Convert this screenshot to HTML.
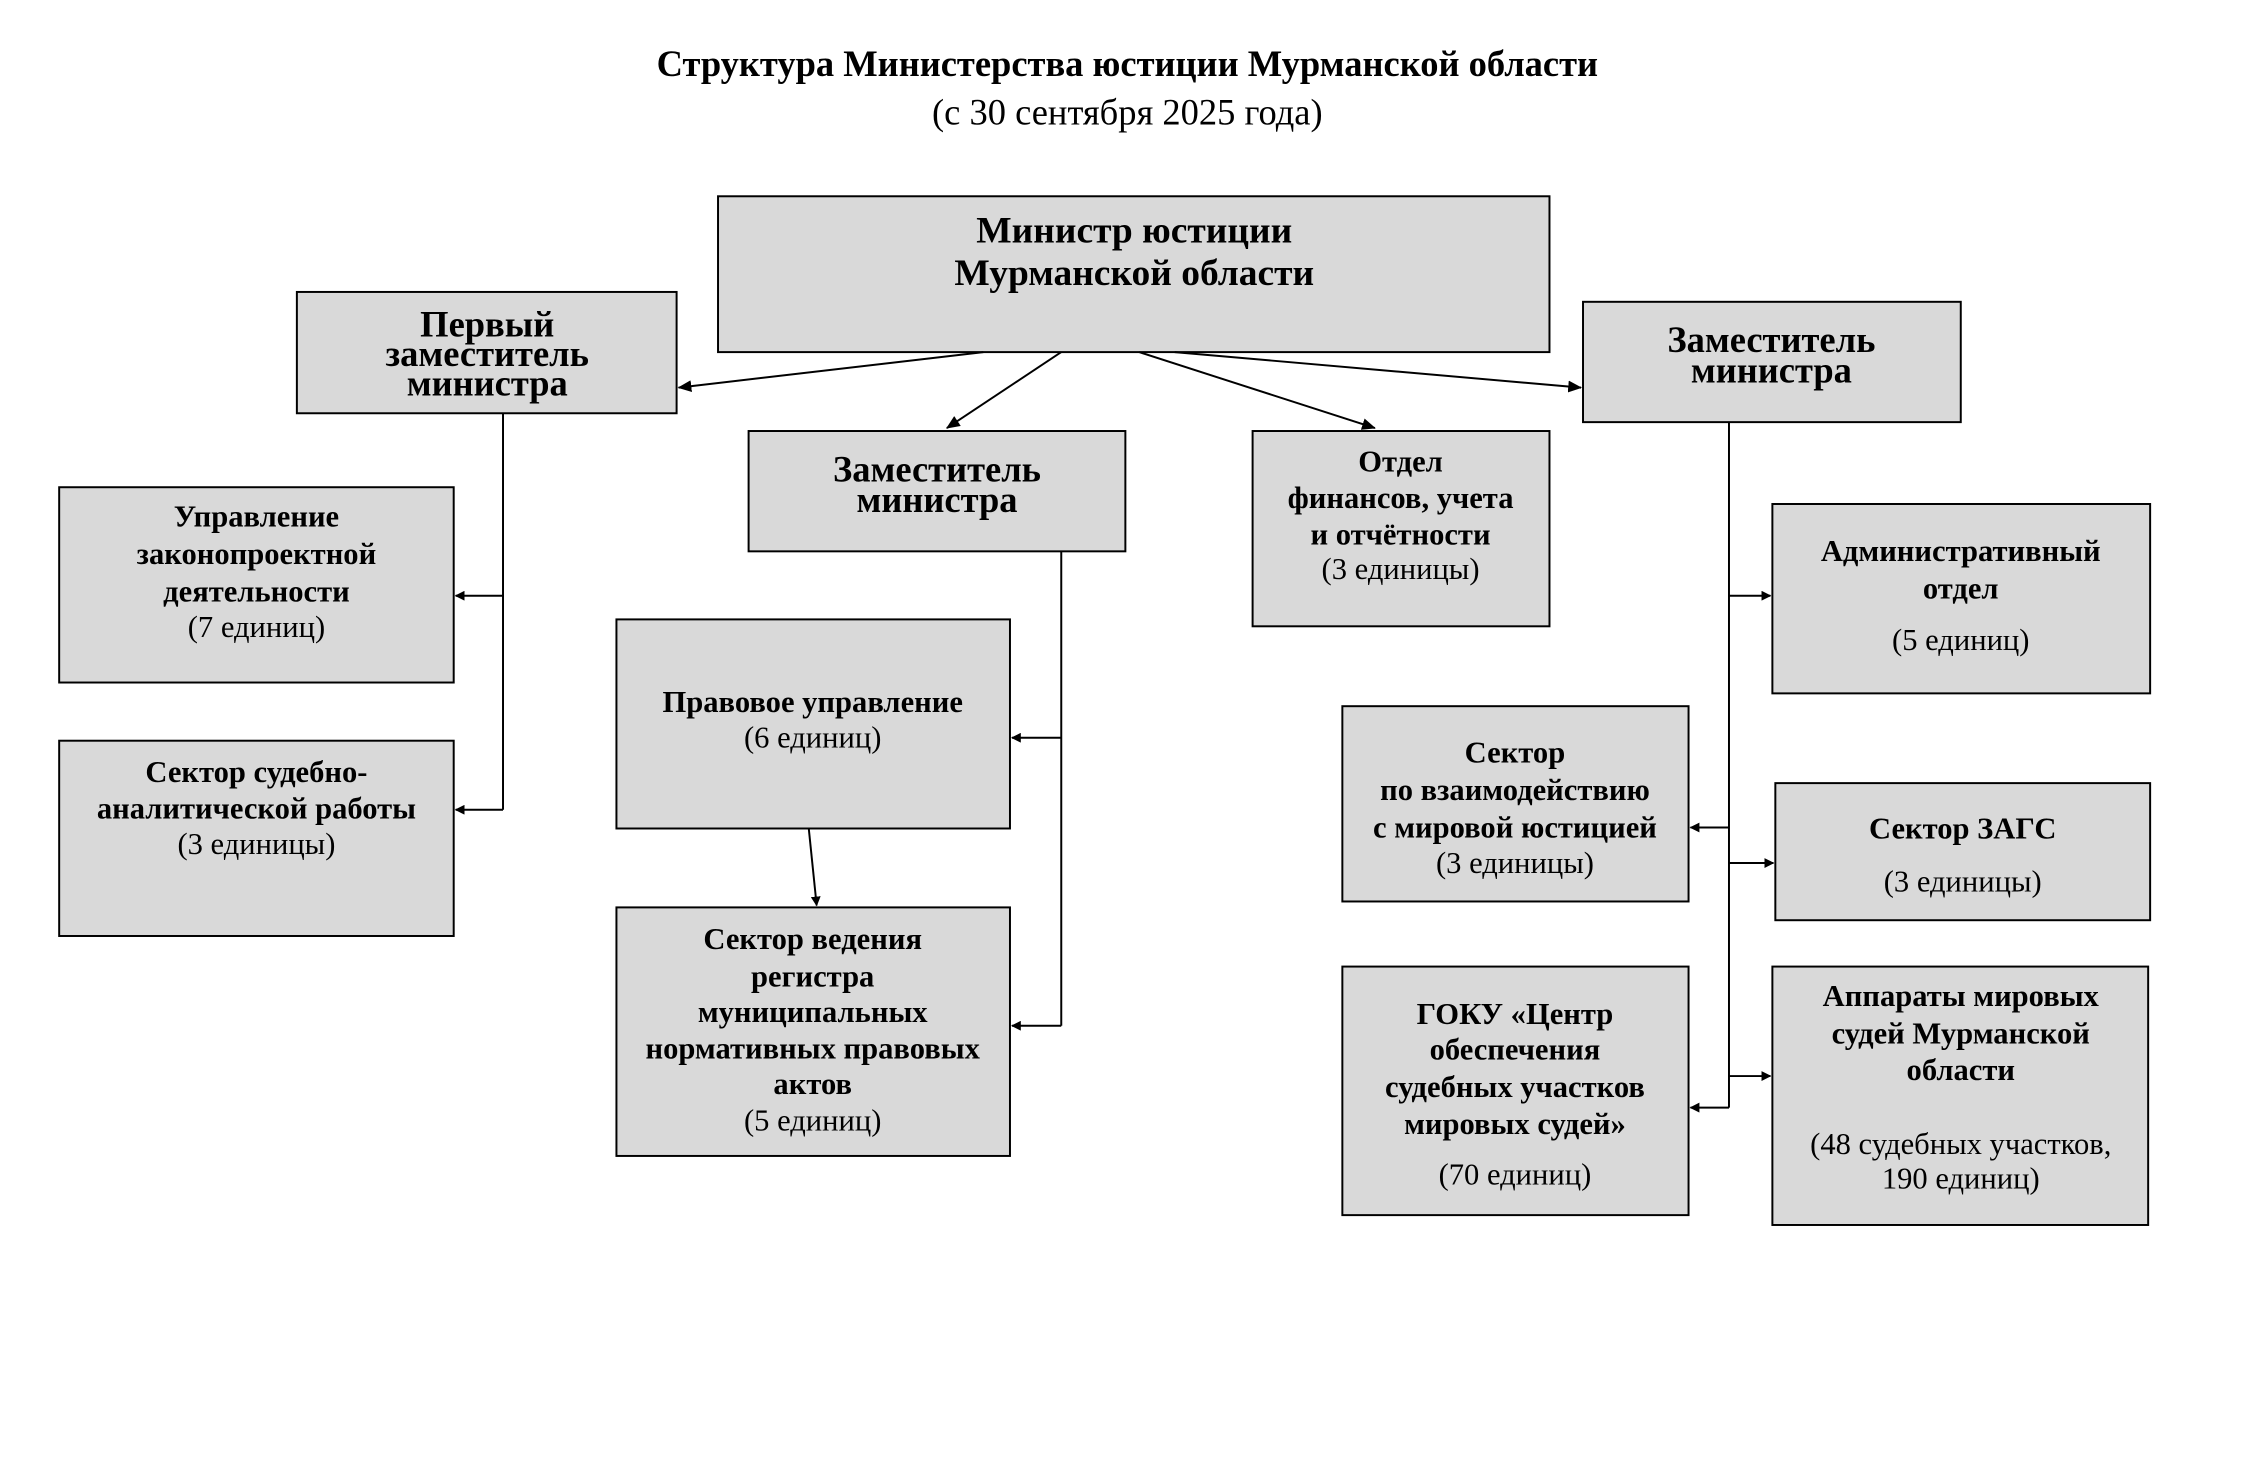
<!DOCTYPE html>
<html><head><meta charset="utf-8"><style>
html,body{margin:0;padding:0;background:#fff;}
svg{display:block;}
text{font-family:"Liberation Serif",serif;fill:#000;}
.b{font-weight:bold;}
.h{font-size:37px;font-weight:bold;}
.m{font-size:38px;font-weight:bold;}
.s{font-size:31px;font-weight:bold;}
.n{font-size:31px;}
</style></head><body>
<svg width="2250" height="1463" viewBox="0 0 2250 1463" xmlns="http://www.w3.org/2000/svg">
<defs><marker id="a" markerWidth="10" markerHeight="10" refX="9" refY="5" orient="auto" markerUnits="userSpaceOnUse"><path d="M0,0 L10,5 L0,10 z" fill="#000"/></marker>
<marker id="a2" markerWidth="14" markerHeight="12" refX="13" refY="6" orient="auto" markerUnits="userSpaceOnUse"><path d="M0,0 L14,6 L0,12 z" fill="#000"/></marker></defs>
<g transform="scale(0.9863)">
<text x="1143" y="77" text-anchor="middle" class="b" font-size="37">Структура Министерства юстиции Мурманской области</text>
<text x="1143" y="126" text-anchor="middle" font-size="37">(с 30 сентября 2025 года)</text>
<g fill="#d9d9d9" stroke="#000" stroke-width="2">
<rect x="728" y="199" width="843" height="158"/>
<rect x="301" y="296" width="385" height="123"/>
<rect x="759" y="437" width="382" height="122"/>
<rect x="1270" y="437" width="301" height="198"/>
<rect x="1605" y="306" width="383" height="122"/>
<rect x="60" y="494" width="400" height="198"/>
<rect x="60" y="751" width="400" height="198"/>
<rect x="625" y="628" width="399" height="212"/>
<rect x="625" y="920" width="399" height="252"/>
<rect x="1797" y="511" width="383" height="192"/>
<rect x="1361" y="716" width="351" height="198"/>
<rect x="1800" y="794" width="380" height="139"/>
<rect x="1361" y="980" width="351" height="252"/>
<rect x="1797" y="980" width="381" height="262"/>
</g>
<g stroke="#000" stroke-width="2" fill="none">
<line x1="997" y1="357" x2="688" y2="393" marker-end="url(#a2)"/>
<line x1="1076" y1="357" x2="960" y2="434" marker-end="url(#a2)"/>
<line x1="1155" y1="357" x2="1394" y2="434" marker-end="url(#a2)"/>
<line x1="1191" y1="357" x2="1603" y2="393" marker-end="url(#a2)"/>
<line x1="510" y1="419" x2="510" y2="821"/>
<line x1="510" y1="604" x2="462" y2="604" marker-end="url(#a)"/>
<line x1="510" y1="821" x2="462" y2="821" marker-end="url(#a)"/>
<line x1="1076" y1="559" x2="1076" y2="1040"/>
<line x1="1076" y1="748" x2="1026" y2="748" marker-end="url(#a)"/>
<line x1="1076" y1="1040" x2="1026" y2="1040" marker-end="url(#a)"/>
<line x1="820" y1="840" x2="828" y2="918" marker-end="url(#a)"/>
<line x1="1753" y1="428" x2="1753" y2="1123"/>
<line x1="1753" y1="604" x2="1795" y2="604" marker-end="url(#a)"/>
<line x1="1753" y1="839" x2="1714" y2="839" marker-end="url(#a)"/>
<line x1="1753" y1="875" x2="1798" y2="875" marker-end="url(#a)"/>
<line x1="1753" y1="1091" x2="1795" y2="1091" marker-end="url(#a)"/>
<line x1="1753" y1="1123" x2="1714" y2="1123" marker-end="url(#a)"/>
</g>
<g text-anchor="middle">
<text x="1150" y="246" class="m">Министр юстиции</text>
<text x="1150" y="289" class="m">Мурманской области</text>
<text x="494" y="341" class="h">Первый</text>
<text x="494" y="371" class="h">заместитель</text>
<text x="494" y="401" class="h">министра</text>
<text x="950" y="488" class="h">Заместитель</text>
<text x="950" y="519" class="h">министра</text>
<text x="1796" y="357" class="h">Заместитель</text>
<text x="1796" y="388" class="h">министра</text>
<text x="1420" y="478" class="s">Отдел</text>
<text x="1420" y="515" class="s">финансов, учета</text>
<text x="1420" y="552" class="s">и отчётности</text>
<text x="1420" y="587" class="n">(3 единицы)</text>
<text x="260" y="534" class="s">Управление</text>
<text x="260" y="572" class="s">законопроектной</text>
<text x="260" y="610" class="s">деятельности</text>
<text x="260" y="646" class="n">(7 единиц)</text>
<text x="260" y="793" class="s">Сектор судебно-</text>
<text x="260" y="830" class="s">аналитической работы</text>
<text x="260" y="866" class="n">(3 единицы)</text>
<text x="824" y="722" class="s">Правовое управление</text>
<text x="824" y="758" class="n">(6 единиц)</text>
<text x="824" y="962" class="s">Сектор ведения</text>
<text x="824" y="1000" class="s">регистра</text>
<text x="824" y="1036" class="s">муниципальных</text>
<text x="824" y="1073" class="s">нормативных правовых</text>
<text x="824" y="1109" class="s">актов</text>
<text x="824" y="1146" class="n">(5 единиц)</text>
<text x="1988" y="569" class="s">Административный</text>
<text x="1988" y="607" class="s">отдел</text>
<text x="1988" y="659" class="n">(5 единиц)</text>
<text x="1536" y="773" class="s">Сектор</text>
<text x="1536" y="811" class="s">по взаимодействию</text>
<text x="1536" y="849" class="s">с мировой юстицией</text>
<text x="1536" y="885" class="n">(3 единицы)</text>
<text x="1990" y="850" class="s">Сектор ЗАГС</text>
<text x="1990" y="904" class="n">(3 единицы)</text>
<text x="1536" y="1038" class="s">ГОКУ «Центр</text>
<text x="1536" y="1074" class="s">обеспечения</text>
<text x="1536" y="1112" class="s">судебных участков</text>
<text x="1536" y="1150" class="s">мировых судей»</text>
<text x="1536" y="1201" class="n">(70 единиц)</text>
<text x="1988" y="1020" class="s">Аппараты мировых</text>
<text x="1988" y="1058" class="s">судей Мурманской</text>
<text x="1988" y="1095" class="s">области</text>
<text x="1988" y="1170" class="n">(48 судебных участков,</text>
<text x="1988" y="1205" class="n">190 единиц)</text>
</g>
</g>
</svg>
</body></html>
